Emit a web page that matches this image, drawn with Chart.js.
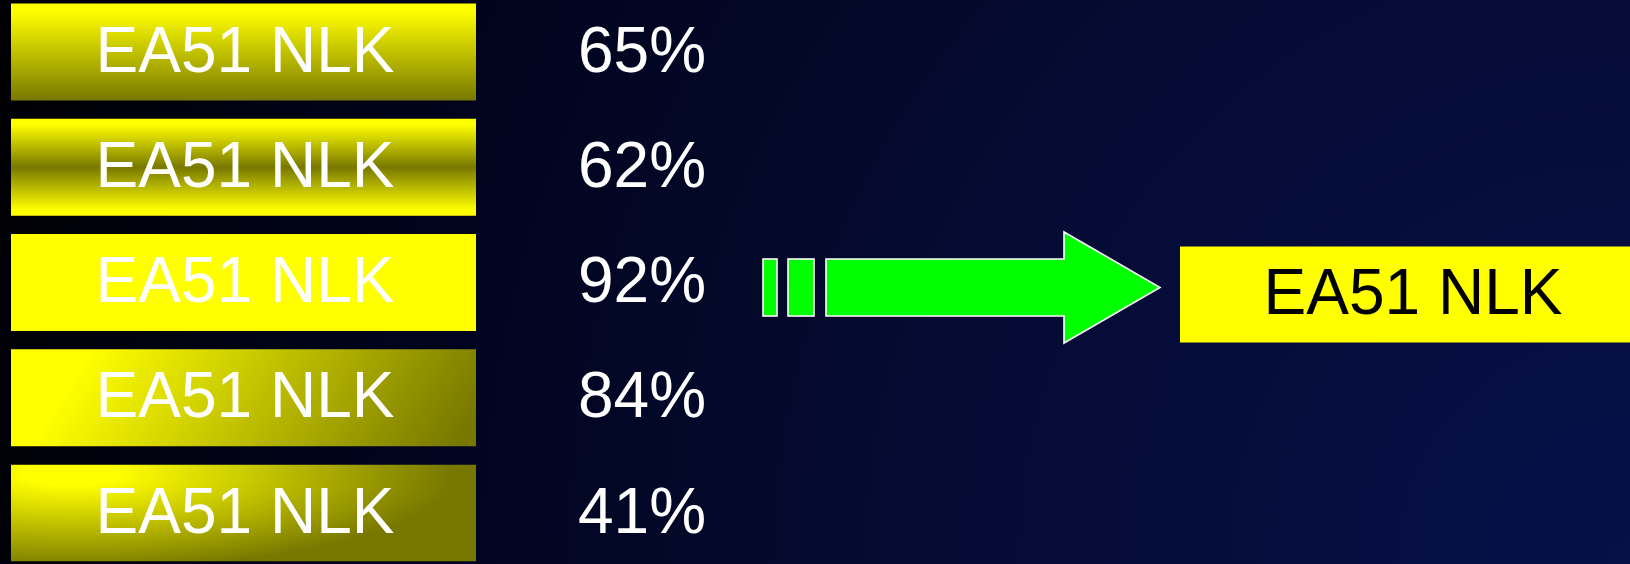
<!DOCTYPE html>
<html>
<head>
<meta charset="utf-8">
<script src="https://cdn.jsdelivr.net/npm/chart.js@4/dist/chart.umd.min.js"></script>
<style>
  html, body { margin:0; padding:0; background:#000; }
  #wrap { width:1630px; height:564px; position:relative; }
</style>
</head>
<body>
<div id="wrap"><canvas id="graf"></canvas></div>
<script>
document.addEventListener("DOMContentLoaded", () => {

  const categorias = ["EA51 NLK", "EA51 NLK", "EA51 NLK", "EA51 NLK", "EA51 NLK"];
  const percentuais = [65, 62, 92, 84, 41];

  // estilo de cada caixa (só aparência)
  const estilos = ["desce", "espelho", "solido", "diagonal", "radial"];
  const AMARELO = "#ffff00";
  const OLIVA = "#787800";
  const FONTE = "64px 'Liberation Sans', Arial, sans-serif";

  const fundo = {
    id:"fundo",
    beforeDraw(chart){
      const {ctx, width, height} = chart;
      const g = ctx.createRadialGradient(width, height, 0, width, height, 1750);
      g.addColorStop(0, "#061049");
      g.addColorStop(0.4, "#050b33");
      g.addColorStop(0.75, "#01031a");
      g.addColorStop(1, "#000000");
      ctx.save();
      ctx.fillStyle = g;
      ctx.fillRect(0, 0, width, height);
      ctx.restore();
    }
  };

  function caixa(ctx, estilo, x0, y0, w, h){
    ctx.save();
    if (estilo === "solido") {
      ctx.fillStyle = AMARELO;
      ctx.fillRect(x0, y0, w, h);
    } else if (estilo === "desce") {
      const g = ctx.createLinearGradient(0, y0, 0, y0 + h);
      g.addColorStop(0, AMARELO);
      g.addColorStop(0.08, AMARELO);
      g.addColorStop(1, OLIVA);
      ctx.fillStyle = g;
      ctx.fillRect(x0, y0, w, h);
    } else if (estilo === "espelho") {
      const g = ctx.createLinearGradient(0, y0, 0, y0 + h);
      g.addColorStop(0, AMARELO);
      g.addColorStop(0.06, AMARELO);
      g.addColorStop(0.5, OLIVA);
      g.addColorStop(0.94, AMARELO);
      g.addColorStop(1, AMARELO);
      ctx.fillStyle = g;
      ctx.fillRect(x0, y0, w, h);
    } else if (estilo === "diagonal") {
      const g = ctx.createLinearGradient(x0 + 60, y0 - 60, x0 + w - 60, y0 + h + 60);
      g.addColorStop(0, AMARELO);
      g.addColorStop(0.12, AMARELO);
      g.addColorStop(1, OLIVA);
      ctx.fillStyle = g;
      ctx.fillRect(x0, y0, w, h);
    } else {
      const cx = x0 + 60, cy = y0 + 10, k = 0.25;
      ctx.beginPath();
      ctx.rect(x0, y0, w, h);
      ctx.clip();
      ctx.translate(cx, cy);
      ctx.scale(1, k);
      const g = ctx.createRadialGradient(0, 0, 0, 0, 0, 380);
      g.addColorStop(0, AMARELO);
      g.addColorStop(0.12, AMARELO);
      g.addColorStop(1, OLIVA);
      ctx.fillStyle = g;
      ctx.fillRect(x0 - cx, (y0 - cy) / k, w, h / k);
    }
    ctx.restore();
  }

  const rotulos = {
    id:"rotulos",
    afterDatasetsDraw(chart){
      const {ctx, width} = chart;
      const meta = chart.getDatasetMeta(0);
      const dados = chart.data.datasets[0].data;
      const nomes = chart.data.labels;
      let imax = 0;
      dados.forEach((v, i) => { if (v > dados[imax]) imax = i; });

      ctx.save();
      ctx.textBaseline = "middle";
      ctx.font = FONTE;
      meta.data.forEach((el, i) => {
        const y = el.y;
        caixa(ctx, estilos[i % estilos.length], 11, y - 48.5, 465, 97);
        ctx.fillStyle = "#ffffff";
        ctx.textAlign = "center";
        ctx.fillText(nomes[i], 245, y + 2);
        ctx.textAlign = "left";
        ctx.fillText(dados[i] + "%", 578, y + 2);
      });

      // seta para a melhor
      const ym = meta.data[imax].y;
      const ay = ym + 5;
      ctx.fillStyle = "#00ff00";
      ctx.strokeStyle = "#ffffff";
      ctx.lineWidth = 1.6;
      [[763, 14], [788, 26]].forEach(([x, w]) => {
        ctx.fillRect(x, ay - 28.5, w, 57);
        ctx.strokeRect(x, ay - 28.5, w, 57);
      });
      ctx.beginPath();
      ctx.moveTo(826, ay - 28.5);
      ctx.lineTo(1064, ay - 28.5);
      ctx.lineTo(1064, ay - 55.5);
      ctx.lineTo(1160, ay);
      ctx.lineTo(1064, ay + 55.5);
      ctx.lineTo(1064, ay + 28.5);
      ctx.lineTo(826, ay + 28.5);
      ctx.closePath();
      ctx.fill();
      ctx.stroke();

      // caixa do resultado
      const ry = ym + 12;
      ctx.fillStyle = AMARELO;
      ctx.fillRect(1180, ry - 48, width - 1180, 96);
      ctx.fillStyle = "#000000";
      ctx.textAlign = "center";
      ctx.fillText(nomes[imax], 1413, ry + 2);
      ctx.restore();
    }
  };

  new Chart(document.getElementById("graf"), {
    type:"bar",
    data:{
      labels:categorias,
      datasets:[{
        label:"Percentual",
        data:percentuais,
        backgroundColor:"rgba(0,0,0,0)",
        borderWidth:0
      }]
    },
    options:{
      indexAxis:"y",
      responsive:true,
      maintainAspectRatio:false,
      animation:false,
      devicePixelRatio:1,
      layout:{ padding:{ top:52, bottom:51, left:0, right:0 } },
      plugins:{ legend:{ display:false }, tooltip:{ enabled:false } },
      scales:{
        x:{ display:false, min:0, max:100 },
        y:{ display:false, offset:false }
      }
    },
    plugins:[fundo, rotulos]
  });

});
</script>
</body>
</html>
